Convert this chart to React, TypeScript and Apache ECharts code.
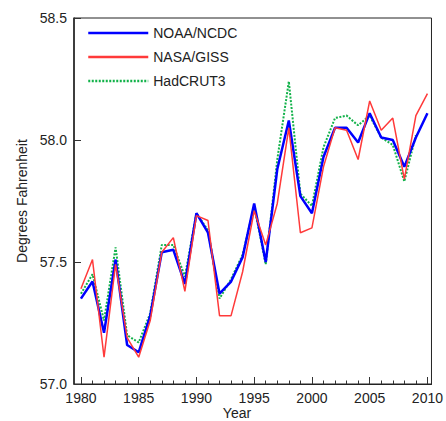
import React, { useEffect, useRef } from "react";
import * as echarts from "echarts";

const years = [1980, 1981, 1982, 1983, 1984, 1985, 1986, 1987, 1988, 1989, 1990, 1991, 1992, 1993, 1994, 1995, 1996, 1997, 1998, 1999, 2000, 2001, 2002, 2003, 2004, 2005, 2006, 2007, 2008, 2009, 2010];
const noaa = [57.35, 57.42, 57.21, 57.51, 57.16, 57.13, 57.28, 57.54, 57.55, 57.41, 57.70, 57.62, 57.37, 57.42, 57.52, 57.74, 57.50, 57.88, 58.08, 57.77, 57.70, 57.93, 58.05, 58.05, 57.99, 58.11, 58.01, 58.00, 57.89, 58.01, 58.11];
const nasa = [57.39, 57.51, 57.11, 57.49, 57.19, 57.11, 57.26, 57.54, 57.60, 57.38, 57.69, 57.67, 57.28, 57.28, 57.46, 57.71, 57.57, 57.74, 58.05, 57.62, 57.64, 57.89, 58.05, 58.04, 57.92, 58.16, 58.04, 58.09, 57.84, 58.10, 58.19];
const hadcrut = [57.37, 57.45, 57.26, 57.56, 57.20, 57.17, 57.29, 57.57, 57.57, 57.44, 57.70, 57.63, 57.35, 57.43, 57.53, 57.73, 57.49, 57.92, 58.24, 57.78, 57.73, 57.97, 58.09, 58.10, 58.06, 58.10, 58.01, 57.98, 57.83, 58.02, null];
const majorYears = [1980, 1985, 1990, 1995, 2000, 2005, 2010];
const seriesNames = ["NOAA/NCDC", "NASA/GISS", "HadCRUT3"];

const FONT = "Liberation Sans, Arial, sans-serif";

export default function App() {
  const ref = useRef<HTMLDivElement>(null);
  useEffect(() => {
    document.body.style.margin = "0";
    const chart = echarts.init(ref.current!, undefined, { renderer: "svg" });
    const pairs = (arr: (number | null)[]) => years.map((y, i) => [y, arr[i]]);
    const xBase = {
      type: "value",
      min: 1979.4,
      max: 2010.35,
      splitLine: { show: false },
    };
    chart.setOption({
      animation: false,
      textStyle: { fontFamily: FONT },
      grid: {
        left: 74,
        right: 11,
        top: 18,
        bottom: 37,
        show: true,
        borderColor: "#222",
        borderWidth: 1,
        backgroundColor: "transparent",
      },
      legend: {
        data: seriesNames,
        orient: "vertical",
        left: 82,
        top: 21,
        itemWidth: 60,
        itemHeight: 14,
        itemGap: 10,
        itemStyle: { opacity: 0 },
        lineStyle: { width: 2.5 },
        textStyle: { fontSize: 14, color: "#222", fontFamily: FONT },
      },
      xAxis: [
        {
          ...xBase,
          axisLine: { show: true, lineStyle: { color: "#222", width: 1.2 } },
          axisTick: {
            show: true,
            inside: true,
            length: 3.5,
            customValues: years,
            lineStyle: { color: "#333" },
          },
          axisLabel: { show: false },
        },
        {
          ...xBase,
          position: "bottom",
          axisLine: { show: false },
          axisTick: {
            show: true,
            inside: true,
            length: 7,
            customValues: majorYears,
            lineStyle: { color: "#333" },
          },
          axisLabel: {
            show: true,
            customValues: majorYears,
            fontSize: 14,
            color: "#222",
            margin: 7,
            fontFamily: FONT,
            formatter: (v: number) => String(Math.round(v)),
          },
        },
      ],
      yAxis: {
        type: "value",
        min: 57,
        max: 58.5,
        interval: 0.5,
        splitLine: { show: false },
        axisLine: { show: true, lineStyle: { color: "#222", width: 1.5 } },
        axisTick: { show: true, inside: true, length: 7, lineStyle: { color: "#333" } },
        axisLabel: {
          fontSize: 14,
          color: "#222",
          margin: 7,
          fontFamily: FONT,
          formatter: (v: number) => v.toFixed(1),
        },
      },
      series: [
        {
          name: seriesNames[2],
          type: "line",
          data: pairs(hadcrut),
          symbol: "none",
          lineStyle: { color: "#12b24a", width: 2, type: [2, 1.5] },
          itemStyle: { color: "#12b24a" },
        },
        {
          name: seriesNames[0],
          type: "line",
          data: pairs(noaa),
          symbol: "none",
          lineStyle: { color: "#0000ff", width: 2.5 },
          itemStyle: { color: "#0000ff" },
        },
        {
          name: seriesNames[1],
          type: "line",
          data: pairs(nasa),
          symbol: "none",
          lineStyle: { color: "#ff3a3a", width: 1.5 },
          itemStyle: { color: "#ff3a3a" },
        },
      ],
      graphic: [
        {
          type: "text",
          x: 22,
          y: 201,
          rotation: Math.PI / 2,
          style: {
            text: "Degrees Fahrenheit",
            fontSize: 14,
            fontFamily: FONT,
            fill: "#222",
            textAlign: "center",
            textVerticalAlign: "middle",
          },
        },
        {
          type: "text",
          x: 237,
          y: 413,
          style: {
            text: "Year",
            fontSize: 14,
            fontFamily: FONT,
            fill: "#222",
            textAlign: "center",
            textVerticalAlign: "middle",
          },
        },
      ],
    });
    return () => chart.dispose();
  }, []);
  return <div ref={ref} style={{ width: 446, height: 421 }} />;
}
